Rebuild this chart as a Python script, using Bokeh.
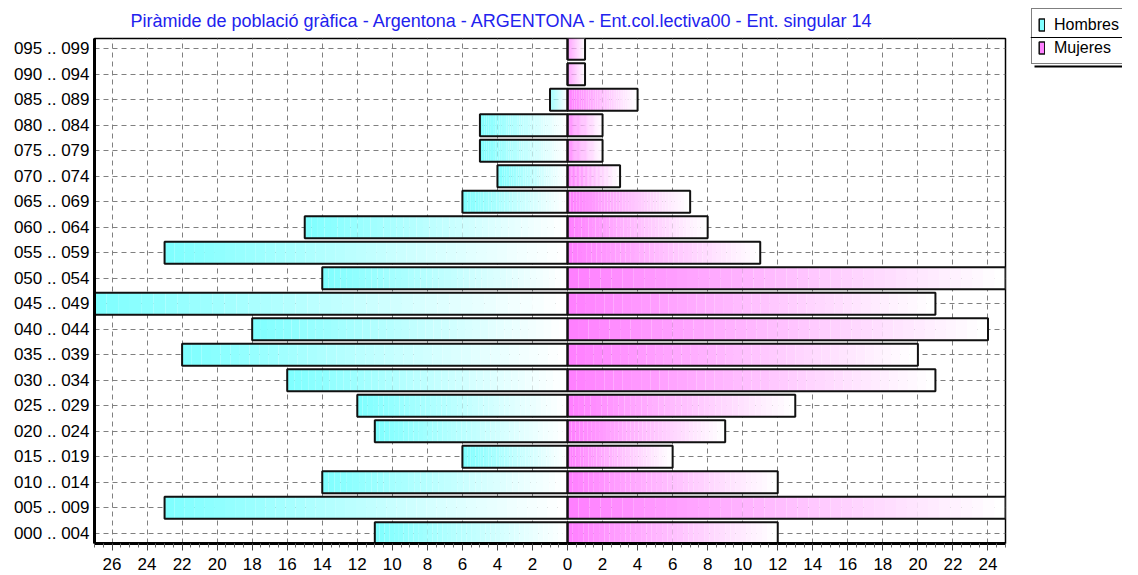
from bokeh.plotting import figure
from bokeh.layouts import row, column
from bokeh.models import (Range1d, FixedTicker, CustomJSTickFormatter, Legend, LegendItem,
                          ColumnDataSource, Span)
from bokeh.embed import file_html
from bokeh.resources import INLINE

# ---- data ----
ages = ["000 .. 004", "005 .. 009", "010 .. 014", "015 .. 019", "020 .. 024",
        "025 .. 029", "030 .. 034", "035 .. 039", "040 .. 044", "045 .. 049",
        "050 .. 054", "055 .. 059", "060 .. 064", "065 .. 069", "070 .. 074",
        "075 .. 079", "080 .. 084", "085 .. 089", "090 .. 094", "095 .. 099"]
hombres = [11, 23, 14, 6, 11, 12, 16, 22, 18, 27, 14, 23, 15, 6, 4, 5, 5, 1, 0, 0]
mujeres = [12, 25, 12, 6, 9, 13, 21, 20, 24, 21, 25, 11, 8, 7, 3, 2, 2, 4, 1, 1]
series_names = ["Hombres", "Mujeres"]
x_ticks = list(range(-26, 25, 2))
title_text = "Piràmide de població gràfica - Argentona - ARGENTONA - Ent.col.lectiva00 - Ent. singular 14"

FONT = "Liberation Sans"
CYAN = (128, 255, 255)
MAGENTA = (255, 128, 255)
BAR_H = 0.86
STEPS = 40
H = 575

p = figure(width=1030, height=H, output_backend="svg", toolbar_location=None,
           x_range=Range1d(-27, 25), y_range=Range1d(-0.4, 19.4),
           min_border_left=94, min_border_right=25, min_border_top=38, min_border_bottom=32)

p.title.text = title_text
p.title.align = "left"
p.title.offset = 36
p.title.text_font = FONT
p.title.text_font_size = "18px"
p.title.text_font_style = "normal"
p.title.text_color = "#2222ee"
p.title.standoff = 16


def mix(c, t):
    r = [int(round(c[k] + (255 - c[k]) * t)) for k in range(3)]
    return "#%02x%02x%02x" % tuple(r)


# gradient slices for each bar (colour -> white, left to right)
gl, gr, gb, gt, gc = [], [], [], [], []
for i in range(len(ages)):
    for (x0, x1, col) in ((-hombres[i], 0, CYAN), (0, mujeres[i], MAGENTA)):
        if x1 - x0 <= 0:
            continue
        for s in range(STEPS):
            gl.append(x0 + (x1 - x0) * s / STEPS)
            gr.append(x0 + (x1 - x0) * (s + 1) / STEPS)
            gb.append(i - BAR_H / 2)
            gt.append(i + BAR_H / 2)
            gc.append(mix(col, s / (STEPS - 1)))
p.quad(left=gl, right=gr, bottom=gb, top=gt, fill_color=gc, line_color=None)

ys = list(range(len(ages)))
hsrc = ColumnDataSource(dict(l=[-h for h in hombres], r=[0] * len(ages),
                             b=[y - BAR_H / 2 for y in ys], t=[y + BAR_H / 2 for y in ys]))
msrc = ColumnDataSource(dict(l=[0] * len(ages), r=mujeres,
                             b=[y - BAR_H / 2 for y in ys], t=[y + BAR_H / 2 for y in ys]))
p.quad(left="l", right="r", bottom="b", top="t", source=hsrc,
       fill_alpha=0, line_color="#111111", line_width=2)
p.quad(left="l", right="r", bottom="b", top="t", source=msrc,
       fill_alpha=0, line_color="#111111", line_width=2)

# axes
xa = p.xaxis[0]
xa.ticker = FixedTicker(ticks=x_ticks,
                        minor_ticks=[t / 2 for t in range(-54, 51) if t % 4 != 0])
xa.formatter = CustomJSTickFormatter(code="return String(Math.abs(Math.round(tick)));")
xa.major_label_text_font = FONT
xa.major_label_text_font_size = "17px"
xa.major_label_text_color = "#000000"
xa.major_tick_out = 7
xa.major_tick_in = 0
xa.minor_tick_out = 4
xa.minor_tick_in = 0
xa.major_label_standoff = 7
xa.axis_line_width = 3
xa.axis_line_color = "#000000"
xa.major_tick_line_color = "#444444"
xa.minor_tick_line_color = "#666666"

ya = p.yaxis[0]
ya.ticker = FixedTicker(ticks=ys)
ya.formatter = CustomJSTickFormatter(args=dict(labels=ages),
                                     code="return labels[Math.round(tick)];")
ya.major_label_text_font = FONT
ya.major_label_text_font_size = "17px"
ya.major_label_text_color = "#000000"
ya.major_tick_out = 0
ya.major_tick_in = 0
ya.minor_tick_out = 0
ya.minor_tick_in = 0
ya.major_label_standoff = 5
ya.axis_line_width = 3
ya.axis_line_color = "#000000"

for g in (p.xgrid[0], p.ygrid[0]):
    g.grid_line_color = "#808080"
    g.grid_line_dash = "5 4"
    g.grid_line_width = 1

p.outline_line_color = "#000000"
p.outline_line_width = 1.5

# ---- legend panel (separate small figure to the right) ----
LW, LH = 92, 72
lg = figure(width=LW, height=LH, output_backend="svg", toolbar_location=None, title=None,
            x_range=Range1d(0, LW), y_range=Range1d(0, LH),
            x_axis_type=None, y_axis_type=None, min_border=0)
lg.grid.visible = False
lg.outline_line_color = None

# proxy glyphs (outside the visible range) carrying the legend swatches
lh = lg.quad(left=[-20], right=[-10], bottom=[-20], top=[-10],
             fill_color="#80ffff", line_color="#111111", line_width=1.5)
lm = lg.quad(left=[-20], right=[-10], bottom=[-20], top=[-10],
             fill_color="#ff80ff", line_color="#111111", line_width=1.5)

legend = Legend(items=[LegendItem(label=series_names[0], renderers=[lh]),
                       LegendItem(label=series_names[1], renderers=[lm])],
                location=(1, LH - 64), orientation="vertical",
                glyph_width=7, glyph_height=15, label_height=19, label_standoff=9,
                padding=6, spacing=4, margin=0,
                label_text_font=FONT, label_text_font_size="16px", label_text_color="#000000",
                border_line_color="#000000", border_line_width=1.5,
                background_fill_alpha=0)
lg.add_layout(legend, "center")
lg.add_layout(Span(location=LH - 37, dimension="width", line_color="#000000", line_width=1))
lg.segment(x0=[4], x1=[LW], y0=[LH - 66], y1=[LH - 66], line_color="#000000", line_width=2)

layout = row(p, column(lg), spacing=0)
open("out.html", "w").write(file_html(layout, INLINE))
